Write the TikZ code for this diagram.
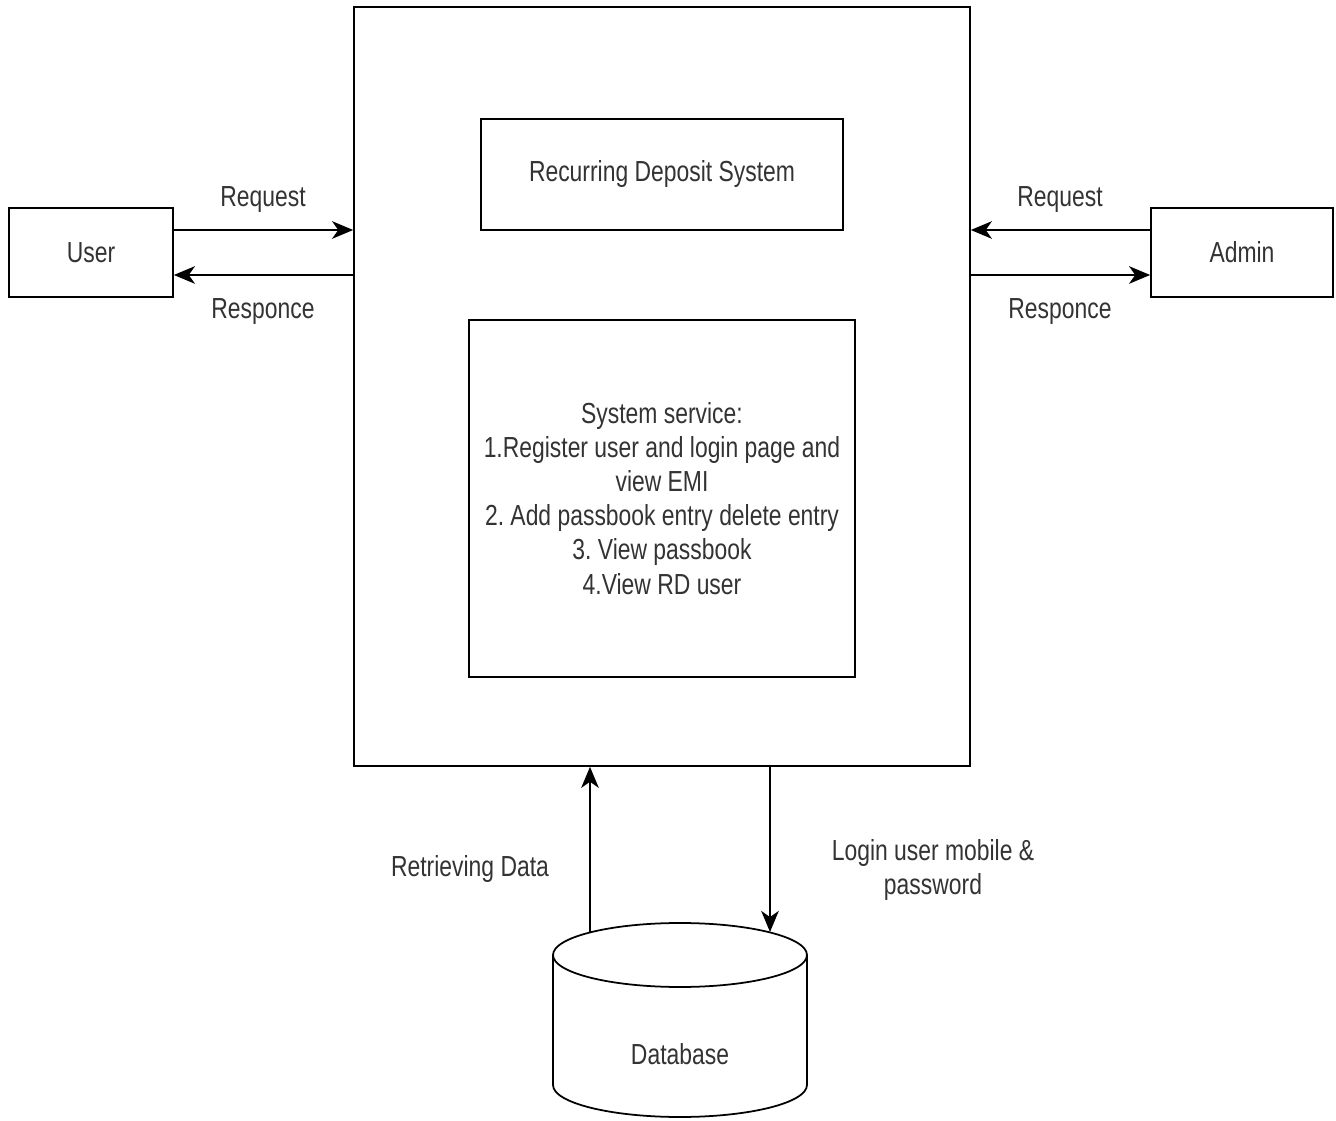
\documentclass[tikz,border=0pt]{standalone}
\usepackage{fontspec}
\setmainfont[FakeStretch=0.79]{Liberation Sans}
\frenchspacing
\usetikzlibrary{arrows.meta}

\tikzset{
  txt/.style={font=\fontsize{16.5}{19.4}\selectfont, align=center, text=black!80},
  box/.style={draw, line width=1pt, inner sep=0pt, txt},
  flow/.style={line width=1pt, -{Stealth[length=12pt,width=10pt,inset=3.5pt]}}
}

\begin{document}
\begin{tikzpicture}[x=0.02cm,y=-0.02cm]
\useasboundingbox[fill=white] (0,0) rectangle (1336,1121);

% system and its parts
\node[box, minimum width=12.32cm, minimum height=15.18cm] (sys) at (662,386.5) {};
\node[box, minimum width=7.24cm, minimum height=2.22cm] (rds) at (662,174.5) {Recurring Deposit System};
\node[box, minimum width=7.72cm, minimum height=7.14cm] (service) at (662,498.5)
  {System service:\\1.Register user and login page and\\view EMI\\2. Add passbook entry delete entry\\3. View passbook\\4.View RD user};

% outside entities
\node[box, minimum width=3.28cm, minimum height=1.78cm] (user) at (91,252.5) {User};
\node[box, minimum width=3.64cm, minimum height=1.78cm] (admin) at (1242,252.5) {Admin};

\coordinate (ureq) at ([yshift=0.45cm]user.east);
\coordinate (ures) at ([yshift=-0.45cm]user.east);
\coordinate (areq) at ([yshift=0.45cm]admin.west);
\coordinate (ares) at ([yshift=-0.45cm]admin.west);

\draw[flow] (ureq) -- (ureq -| sys.west);
\draw[flow] (ures -| sys.west) -- (ures);
\draw[flow] (areq) -- (areq -| sys.east);
\draw[flow] (ares -| sys.east) -- (ares);

\node[txt] (ureqlbl) at (263,200) {Request};
\node[txt] (ureslbl) at (263,312) {Responce};
\node[txt] (areqlbl) at (1060,200) {Request};
\node[txt] (areslbl) at (1060,312) {Responce};

% database
\draw[line width=1pt] (553,955) -- (553,1085) arc[start angle=180, end angle=360, x radius=2.54cm, y radius=0.64cm] -- (807,955);
\draw[line width=1pt] (680,955) ellipse[x radius=2.54cm, y radius=0.64cm];
\node[txt] (db) at (680,1054) {Database};

\coordinate (dbl) at (590,932);
\coordinate (dbr) at (770,932);
\draw[flow] (dbl) -- (dbl |- sys.south);
\draw[flow] (dbr |- sys.south) -- (dbr);

\node[txt] (retlbl) at (470,869) {Retrieving Data};
\node[txt] (loglbl) at (933,870) {Login user mobile \&\\password};
\end{tikzpicture}
\end{document}
